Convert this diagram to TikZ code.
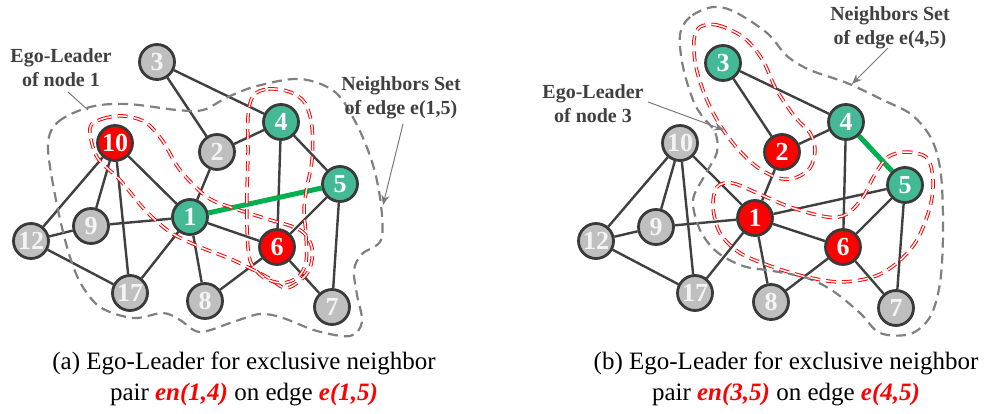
\documentclass[tikz,border=0pt]{standalone}
\usepackage{fontspec}
\setmainfont{Liberation Serif}
\usetikzlibrary{arrows.meta}
\definecolor{tealc}{HTML}{43B996}
\definecolor{redc}{HTML}{FF0000}
\definecolor{graynode}{HTML}{BFBFBF}
\definecolor{graytext}{HTML}{F4F4F4}
\definecolor{nodeborder}{HTML}{3A3A3A}
\definecolor{edgec}{HTML}{404040}
\definecolor{greenc}{HTML}{00B050}
\definecolor{outc}{HTML}{808080}
\definecolor{labelc}{HTML}{404040}
\definecolor{ptrc}{HTML}{7A7A7A}
\pgfdeclarelayer{edges}
\pgfdeclarelayer{outl}
\pgfsetlayers{edges,outl,main}
\begin{document}
\begin{tikzpicture}[x=1pt,y=-1pt,
  gnode/.style={circle, draw=nodeborder, line width=2.8pt, minimum size=35pt, inner sep=0pt, font=\fontsize{26}{26}\selectfont\bfseries},
  grayn/.style={gnode, fill=graynode, text=graytext},
  tealn/.style={gnode, fill=tealc, text=white},
  redn/.style={gnode, fill=redc, text=white},
  edge/.style={draw=edgec, line width=2.4pt},
  hedge/.style={draw=greenc, line width=5pt},
  outline/.style={draw=outc, line width=2.2pt, dash pattern=on 10pt off 6pt},
  redout/.style={draw=redc, line width=1pt, double=white, double distance=1.5pt, dash pattern=on 10pt off 6pt},
  lbl/.style={font=\fontsize{20}{24}\selectfont\bfseries, text=labelc, align=center, inner sep=0pt},
  ptr/.style={draw=ptrc, line width=1pt},
  ptrtip/.style={ptr, -{Stealth[length=10pt,width=8pt]}},
  captext/.style={font=\fontsize{25}{30}\selectfont, inner sep=0pt}
]
\useasboundingbox (0,0) rectangle (988,414);

% ---------- left graph nodes ----------
\node[grayn] (a3) at (157,62) {3};
\node[redn]  (a10) at (115,143) {10};
\node[grayn] (a2) at (217,152) {2};
\node[tealn] (a4) at (281,122) {4};
\node[tealn] (a5) at (340,184) {5};
\node[tealn] (a1) at (190,217) {1};
\node[grayn] (a9) at (91,226) {9};
\node[grayn] (a12) at (31,241) {12};
\node[grayn] (a17) at (130,293) {17};
\node[grayn] (a8) at (205,301) {8};
\node[redn]  (a6) at (277,247) {6};
\node[grayn] (a7) at (332,307) {7};

% ---------- right graph nodes ----------
\node[tealn] (b3) at (723,63) {3};
\node[grayn] (b10) at (680,143) {10};
\node[redn]  (b2) at (782,152) {2};
\node[tealn] (b4) at (846,122) {4};
\node[tealn] (b5) at (905,185) {5};
\node[redn]  (b1) at (755,218) {1};
\node[grayn] (b9) at (656,227) {9};
\node[grayn] (b12) at (596,241) {12};
\node[redn]  (b6) at (843,247) {6};
\node[grayn] (b17) at (695,293) {17};
\node[grayn] (b8) at (771,302) {8};
\node[grayn] (b7) at (896,308) {7};

% ---------- edges ----------
\begin{pgfonlayer}{edges}
\foreach \p in {a,b}{
  \foreach \u/\v in {3/2,3/4,2/4,2/1,4/6,5/6,5/7,1/10,1/9,1/17,1/8,1/6,10/12,10/9,10/17,9/12,12/17,6/8,6/7}
    \draw[edge] (\p\u) -- (\p\v);
}
\draw[edge] (a4) -- (a5);
\draw[hedge] (a1) -- (a5);
\draw[edge] (b1) -- (b5);
\draw[hedge] (b4) -- (b5);
\end{pgfonlayer}

% ---------- outlines ----------
\begin{pgfonlayer}{outl}
% left gray
\draw[outline] plot[smooth cycle, tension=0.55] coordinates {
 (48,145) (58,122) (90,107) (127,104) (177,110) (203,110) (228,97) (257,86)
 (300,79) (335,92) (357,125) (373,165) (381,205) (381,240) (362,254) (354,270)
 (357,295) (362,322) (350,336) (317,331) (283,318) (260,314) (233,322) (200,332)
 (180,320) (163,313) (133,318) (100,307) (80,282) (67,247) (55,195)};
% left red: 10-1-6
\draw[redout] plot[smooth cycle, tension=0.55] coordinates {
 (90,128) (102,119) (123,116) (145,122) (162,140) (180,170) (207,197) (233,208)
 (267,219) (300,230) (312,248) (308,272) (287,288) (267,277) (233,260) (200,247)
 (170,232) (145,210) (120,180) (97,157)};
% left red: 4-6
\draw[redout] plot[smooth cycle, tension=0.55] coordinates {
 (253,96) (268,89) (290,92) (305,103) (312,127) (312,160) (307,187) (304,210)
 (306,235) (306,262) (298,277) (282,283) (263,277) (250,260) (247,227) (247,193)
 (248,153) (248,117)};
% right gray
\draw[outline] plot[smooth cycle, tension=0.55] coordinates {
 (713,7) (690,17) (680,35) (683,67) (693,100) (702,116) (715,132) (717,152)
 (705,175) (693,200) (700,230) (717,252) (743,266) (773,271) (807,278) (833,291)
 (860,313) (880,333) (910,334) (930,317) (940,283) (943,233) (941,175) (932,140)
 (912,115) (883,100) (847,83) (810,70) (787,56) (767,33) (735,12)};
% right red: 3-2
\draw[redout] plot[smooth cycle, tension=0.55] coordinates {
 (700,27) (717,25) (743,37) (762,59) (776,89) (795,117) (810,133) (815,150)
 (810,168) (795,178) (778,178) (757,167) (737,148) (720,125) (706,98) (696,67)
 (694,40)};
% right red: 1-6-5
\draw[redout] plot[smooth cycle, tension=0.55] coordinates {
 (717,187) (732,183) (757,193) (790,207) (827,217) (847,214) (863,197) (874,176)
 (888,157) (907,152) (927,158) (933,180) (930,207) (917,240) (897,263) (873,277)
 (840,282) (807,277) (773,267) (740,253) (720,233) (713,207)};
\end{pgfonlayer}

% ---------- labels ----------
\node[lbl] (la) at (61,68) {Ego-Leader\\of node 1};
\coordinate (la0) at (68,92);
\coordinate (la1) at (88,110);
\draw[ptr] (la0) -- (la1);

\node[lbl] (lb) at (401,98) {Neighbors Set\\of edge e(1,5)};
\coordinate (lb0) at (403,124);
\coordinate (lb1) at (383,205);
\draw[ptrtip] (lb0) -- (lb1);

\node[lbl] (lc) at (593,104) {Ego-Leader\\of node 3};
\coordinate (lc0) at (648,102);
\coordinate (lc1) at (724,130);
\draw[ptrtip] (lc0) -- (lc1);

\node[lbl] (ld) at (890,28) {Neighbors Set\\of edge e(4,5)};
\coordinate (ld0) at (888,48);
\coordinate (ld1) at (852,84);
\draw[ptrtip] (ld0) -- (ld1);

% ---------- captions ----------
\node[captext] (capa1) at (244,363) {(a) Ego-Leader for exclusive neighbor};
\node[captext] (capa2) at (244,395) {pair \textcolor{redc}{\textbf{\textit{en(1,4)}}} on edge \textcolor{redc}{\textbf{\textit{e(1,5)}}}};
\node[captext] (capb1) at (786,363) {(b) Ego-Leader for exclusive neighbor};
\node[captext] (capb2) at (786,395) {pair \textcolor{redc}{\textbf{\textit{en(3,5)}}} on edge \textcolor{redc}{\textbf{\textit{e(4,5)}}}};
\end{tikzpicture}
\end{document}
